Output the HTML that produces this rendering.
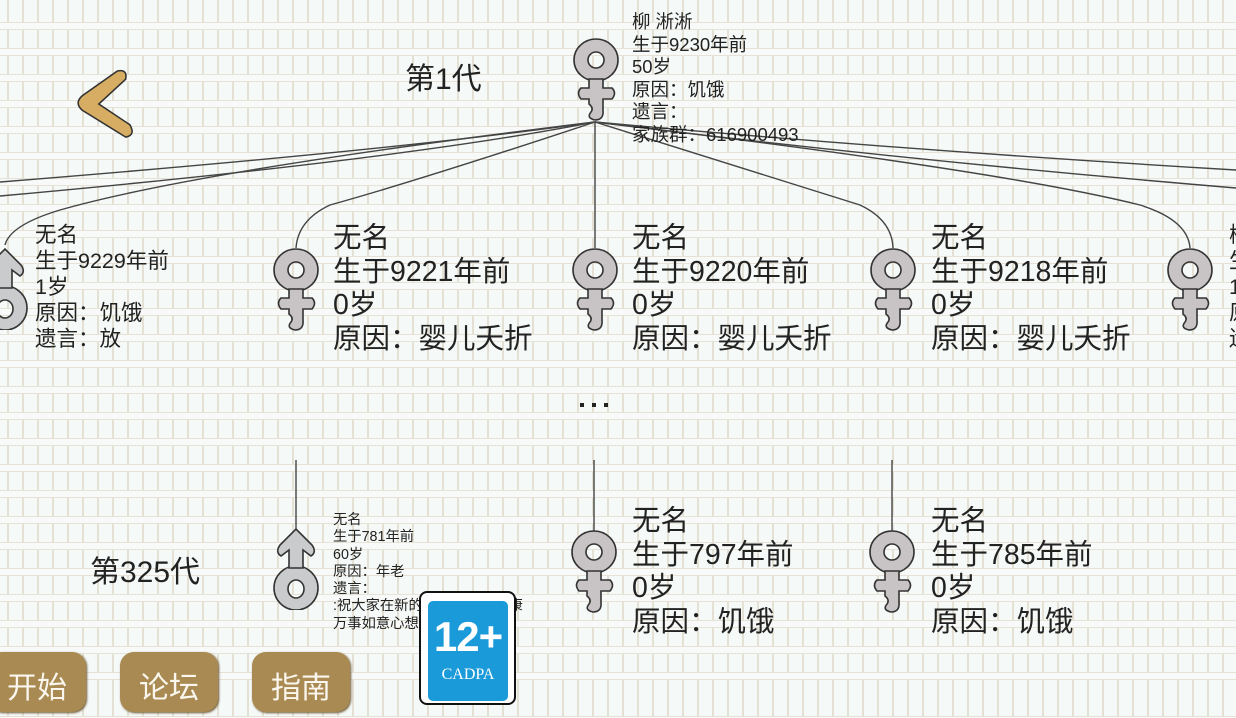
<!DOCTYPE html>
<html><head><meta charset="utf-8">
<style>
html,body{margin:0;padding:0}
body{width:1236px;height:694px;overflow:hidden;position:relative;font-family:"Liberation Sans","Noto Sans CJK SC",sans-serif;color:#222;
background-color:#f5f9f7;
background-image:
 repeating-linear-gradient(180deg, rgba(245,249,247,0) 0px, rgba(245,249,247,0) 18px, #e6e2d6 18px, #e6e2d6 19px, #f7faf8 19px, #f7faf8 25px, #e6e2d6 25px, #e6e2d6 26px),
 repeating-linear-gradient(90deg, transparent 0px, transparent 7px, #e4e0d4 7px, #e4e0d4 9px, transparent 9px, transparent 15px);
background-position:0 4px,0 0;}
.t{position:absolute;white-space:nowrap}
.big{font-size:28.5px;line-height:33.6px}
.mid{font-size:21.5px;line-height:26px}
.top{font-size:18.5px;line-height:22.6px}
.sm{font-size:14.3px;line-height:17.3px}
.btn{position:absolute;top:652px;height:60px;background:#a98a52;border-radius:14px;color:#fbf7ee;font-family:"Noto Sans CJK SC",sans-serif;font-size:30px;text-align:center;line-height:66px;box-shadow:1px 1px 2px #6b5530}
svg{position:absolute;left:0;top:0}
</style></head><body>
<svg width="1236" height="694" viewBox="0 0 1236 694">
<defs>
<symbol id="f" viewBox="0 0 46 84">
 <path d="M23 1a22 21 0 1 1 0 42a22 21 0 1 1 0-42z M23 14a8 8 0 1 0 0 16a8 8 0 1 0 0-16z" fill="#c8c3c5" stroke="#333" stroke-width="1.6" fill-rule="evenodd"/>
 <path d="M16 41 L30 41 L30 50 L39 50 Q44 55 39 61 L30 61 L30 72 Q31 82 22 82 Q13 80 18 74 Q21 70 16 66 L16 61 L8 61 Q3 55 8 50 L16 50 Z" fill="#c8c3c5" stroke="#333" stroke-width="1.6"/>
</symbol>
<symbol id="m" viewBox="0 0 46 84">
 <path d="M23 40a22 22 0 1 1 0 44a22 22 0 1 1 0-44z M23 54a8 9 0 1 0 0 18a8 9 0 1 0 0-18z" fill="#c9cbcc" stroke="#333" stroke-width="1.6" fill-rule="evenodd"/>
 <path d="M16 42 L16 24 L8 30 Q2 26 7 19 L23 3 L39 19 Q44 26 38 30 L30 24 L30 42 Z" fill="#c9cbcc" stroke="#333" stroke-width="1.6"/>
</symbol>
<symbol id="back" viewBox="0 0 60 70">
 <path d="M42 4 Q52 2 50 12 L24 36 L54 56 Q60 66 50 68 L8 42 Q0 35 8 28 Z" fill="#d6ad62" stroke="#333" stroke-width="1.5"/>
</symbol>
</defs>
<g fill="none" stroke="#444" stroke-width="1.4">
 <path d="M595 122 Q400 150 0 182"/>
 <path d="M595 122 Q400 160 0 196"/>
 <path d="M595 122 Q200 170 60 210 Q10 225 5 245"/>
 <path d="M595 122 Q420 180 330 205 Q298 220 296 248"/>
 <path d="M595 122 L595 248"/>
 <path d="M595 122 Q780 180 860 205 Q892 220 893 248"/>
 <path d="M595 122 Q900 150 1236 170"/>
 <path d="M595 122 Q900 160 1236 188"/>
 <path d="M595 122 Q1000 170 1140 205 Q1188 220 1190 248"/>
 <path d="M296 460 L296 530"/>
 <path d="M594 460 L594 532"/>
 <path d="M892 460 L892 532"/>
</g>
<g fill="#222"><rect x="580" y="403" width="4" height="4"/><rect x="592" y="403" width="4" height="4"/><rect x="604" y="403" width="4" height="4"/></g>
<use href="#back" x="74" y="66" width="62" height="74"/>
<use href="#f" x="573" y="38" width="46" height="84"/>
<use href="#m" x="-18" y="246" width="46" height="84"/>
<use href="#f" x="273" y="248" width="46" height="84"/>
<use href="#f" x="572" y="248" width="46" height="84"/>
<use href="#f" x="870" y="248" width="46" height="84"/>
<use href="#f" x="1167" y="248" width="46" height="84"/>
<use href="#m" x="273" y="526" width="46" height="84"/>
<use href="#f" x="571" y="530" width="46" height="84"/>
<use href="#f" x="869" y="530" width="46" height="84"/>
</svg>
<div class="t" style="left:405px;top:60px;font-size:30px;line-height:40px">第1代</div>
<div class="t" style="left:90px;top:553px;font-size:30px;line-height:40px">第325代</div>
<div class="t top" style="left:632px;top:11px">柳 淅淅<br>生于9230年前<br>50岁<br>原因：饥饿<br>遗言：<br>家族群：616900493</div>
<div class="t mid" style="left:35px;top:222px">无名<br>生于9229年前<br>1岁<br>原因：饥饿<br>遗言：放</div>
<div class="t big" style="left:333px;top:222px">无名<br>生于9221年前<br>0岁<br>原因：婴儿夭折</div>
<div class="t big" style="left:632px;top:222px">无名<br>生于9220年前<br>0岁<br>原因：婴儿夭折</div>
<div class="t big" style="left:931px;top:222px">无名<br>生于9218年前<br>0岁<br>原因：婴儿夭折</div>
<div class="t mid" style="left:1229px;top:222px">柳<br>生<br>1<br>原<br>遗</div>
<div class="t sm" style="left:333px;top:512px">无名<br>生于781年前<br>60岁<br>原因：年老<br>遗言：<br>:祝大家在新的一年里身体健康<br>万事如意心想事成</div>
<div class="t big" style="left:632px;top:505px">无名<br>生于797年前<br>0岁<br>原因：饥饿</div>
<div class="t big" style="left:931px;top:505px">无名<br>生于785年前<br>0岁<br>原因：饥饿</div>
<div class="btn" style="left:-12px;width:98px">开始</div>
<div class="btn" style="left:120px;width:98px">论坛</div>
<div class="btn" style="left:252px;width:98px">指南</div>
<div style="position:absolute;left:419px;top:591px;width:93px;height:110px;background:#fff;border:2px solid #111;border-radius:8px"></div>
<div style="position:absolute;left:428px;top:601px;width:80px;height:100px;background:#1b9ad9;border-radius:5px"></div>
<div class="t" style="left:428px;top:612px;width:80px;text-align:center;color:#fff;font-family:'Liberation Sans',sans-serif;font-weight:bold;font-size:42px;line-height:50px;letter-spacing:-1px">12+</div>
<div class="t" style="left:428px;top:666px;width:80px;text-align:center;color:#fff;font-family:'Liberation Serif',serif;font-size:16px">CADPA</div>
</body></html>
